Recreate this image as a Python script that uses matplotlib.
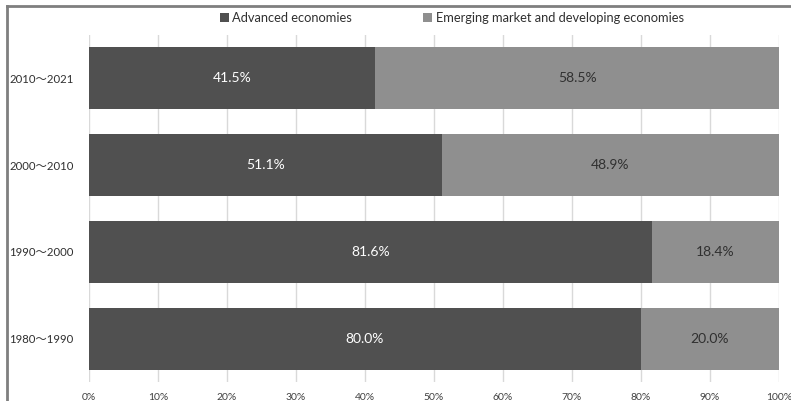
import matplotlib
matplotlib.use("Agg")
import matplotlib.pyplot as plt
from matplotlib.lines import Line2D
from matplotlib.patches import Patch

plt.rcParams['font.family'] = ['Lato', 'Noto Sans CJK JP', 'DejaVu Sans']

categories = ["1980～1990", "1990～2000", "2000～2010", "2010～2021"]
advanced = [80.0, 81.6, 51.1, 41.5]
emerging = [20.0, 18.4, 48.9, 58.5]
series_names = ["Advanced economies", "Emerging market and developing economies"]
xticks = list(range(0, 101, 10))
xtick_labels = [f"{t}%" for t in xticks]

dark = "#505050"
light = "#8f8f8f"

fig = plt.figure(figsize=(7.91, 4.01), dpi=100)
ax = fig.add_axes([89/791, 1 - 382/401, 690/791, 347/401])

y = list(range(len(categories)))
h = 0.715
ax.barh(y, advanced, height=h, color=dark, zorder=2)
ax.barh(y, emerging, left=advanced, height=h, color=light, zorder=2)

for i in y:
    a, e = advanced[i], emerging[i]
    ax.text(a / 2, i, f"{a:.1f}%", ha="center", va="center", color="white", fontsize=10, zorder=3)
    ax.text(a + e / 2, i, f"{e:.1f}%", ha="center", va="center", color="#303030", fontsize=10, zorder=3)

ax.set_xlim(0, 100)
ax.set_ylim(-0.5, len(categories) - 0.5)
ax.set_xticks(xticks)
ax.set_xticklabels(xtick_labels, fontsize=7.5, color="#404040")
ax.set_yticks(y)
ax.set_yticklabels(categories, fontsize=8.2, color="#303030")
ax.tick_params(axis="both", length=0)
ax.tick_params(axis="x", pad=8)
ax.tick_params(axis="y", pad=11)
ax.grid(axis="x", color="#d9d9d9", linewidth=1, zorder=0)
for s in ax.spines.values():
    s.set_visible(False)

# legend
handles = [Patch(facecolor=dark, edgecolor="none"), Patch(facecolor=light, edgecolor="none")]
leg = fig.legend(handles, series_names, loc="center", bbox_to_anchor=(452/791, 1 - 18/401),
                 ncol=2, frameon=False, fontsize=9.3, handlelength=0.7, handleheight=0.7,
                 handletextpad=0.3, columnspacing=5.5, labelcolor="#303030")

# figure border (top and left)
fig.add_artist(Line2D([7/791, 1], [1 - 6/401, 1 - 6/401], color="#7f7f7f", linewidth=2, transform=fig.transFigure))
fig.add_artist(Line2D([7/791, 7/791], [0, 1 - 6/401], color="#7f7f7f", linewidth=2, transform=fig.transFigure))

fig.savefig("out.png", dpi=100)
